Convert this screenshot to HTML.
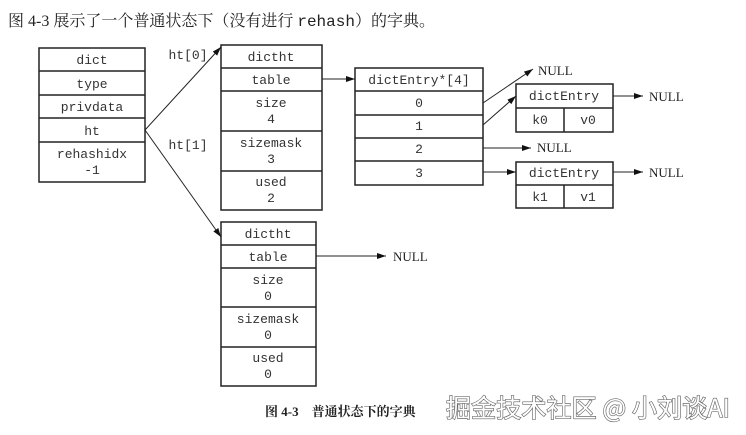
<!DOCTYPE html>
<html><head><meta charset="utf-8"><style>
body{margin:0;background:#fff;width:746px;height:435px;overflow:hidden;position:relative}
svg{position:absolute;left:0;top:0}
</style></head><body>
<svg width="746" height="435" viewBox="0 0 746 435" xmlns="http://www.w3.org/2000/svg">
<defs><marker id="a" markerWidth="10" markerHeight="8" refX="9" refY="4" orient="auto" markerUnits="userSpaceOnUse"><path d="M0,1 L9,4 L0,7 Z" fill="#111"/></marker></defs>
<text x="8" y="26" font-family="Liberation Serif,'Noto Serif CJK SC',serif" font-size="16" fill="#222">图 4-3 展示了一个普通状态下（没有进行 <tspan font-family="Liberation Mono,monospace">rehash</tspan>）的字典。</text>
<g fill="none" stroke="#222" stroke-width="1.5">
<rect x="39" y="48" width="106" height="134"/>
<path d="M39 71H145M39 95H145M39 118H145M39 142H145"/>
<rect x="221" y="45" width="101" height="165"/>
<path d="M221 68H322M221 91H322M221 131H322M221 171H322"/>
<rect x="221" y="222" width="95" height="164"/>
<path d="M221 245H316M221 268H316M221 307H316M221 347H316"/>
<rect x="355" y="68" width="128" height="117"/>
<path d="M355 91H483M355 115H483M355 138H483M355 161H483"/>
<rect x="516" y="84" width="97" height="48"/>
<path d="M516 108H613M564 108V132"/>
<rect x="516" y="162" width="97" height="46"/>
<path d="M516 185H613M564 185V208"/>
</g>
<g stroke="#222" stroke-width="1" fill="none" marker-end="url(#a)">
<path d="M145 130L221 47"/>
<path d="M145 130L221 237"/>
<path d="M322 79H355"/>
<path d="M316 256H386"/>
<path d="M483 103L533 69"/>
<path d="M483 125L516 96"/>
<path d="M483 148H531"/>
<path d="M483 172H516"/>
<path d="M613 96H643"/>
<path d="M613 172H643"/>
</g>
<g font-family="Liberation Mono,monospace" font-size="13" fill="#333" text-anchor="middle">
<text x="92" y="64">dict</text><text x="92" y="88">type</text><text x="92" y="111">privdata</text><text x="92" y="135">ht</text>
<text x="92" y="158">rehashidx</text><text x="92" y="174">-1</text>
<text x="271" y="61">dictht</text><text x="271" y="84">table</text>
<text x="271" y="107">size</text><text x="271" y="123">4</text>
<text x="271" y="147">sizemask</text><text x="271" y="163">3</text>
<text x="271" y="186">used</text><text x="271" y="202">2</text>
<text x="268" y="238">dictht</text><text x="268" y="261">table</text>
<text x="268" y="284">size</text><text x="268" y="300">0</text>
<text x="268" y="323">sizemask</text><text x="268" y="339">0</text>
<text x="268" y="362">used</text><text x="268" y="378">0</text>
<text x="419" y="84">dictEntry*[4]</text>
<text x="419" y="107">0</text><text x="419" y="130">1</text><text x="419" y="153">2</text><text x="419" y="177">3</text>
<text x="564" y="100">dictEntry</text><text x="540" y="124">k0</text><text x="588" y="124">v0</text>
<text x="564" y="177">dictEntry</text><text x="540" y="201">k1</text><text x="588" y="201">v1</text>
<text x="188" y="59">ht[0]</text><text x="188" y="149">ht[1]</text>
</g>
<g font-family="Liberation Serif,serif" font-size="13" fill="#222">
<text x="538" y="75">NULL</text><text x="649" y="101">NULL</text><text x="537" y="152">NULL</text>
<text x="649" y="177">NULL</text><text x="393" y="261">NULL</text>
</g>
<text x="265" y="416" font-family="Liberation Serif,'Noto Serif CJK SC',serif" font-size="13" fill="#222" font-weight="bold">图 4-3　普通状态下的字典</text>
<text x="446" y="417" font-family="'Noto Sans CJK SC',sans-serif" font-size="25" fill="#fff" stroke="#666" stroke-width="1.3" paint-order="stroke" textLength="284">掘金技术社区 @ 小刘谈AI</text>
</svg>
</body></html>
